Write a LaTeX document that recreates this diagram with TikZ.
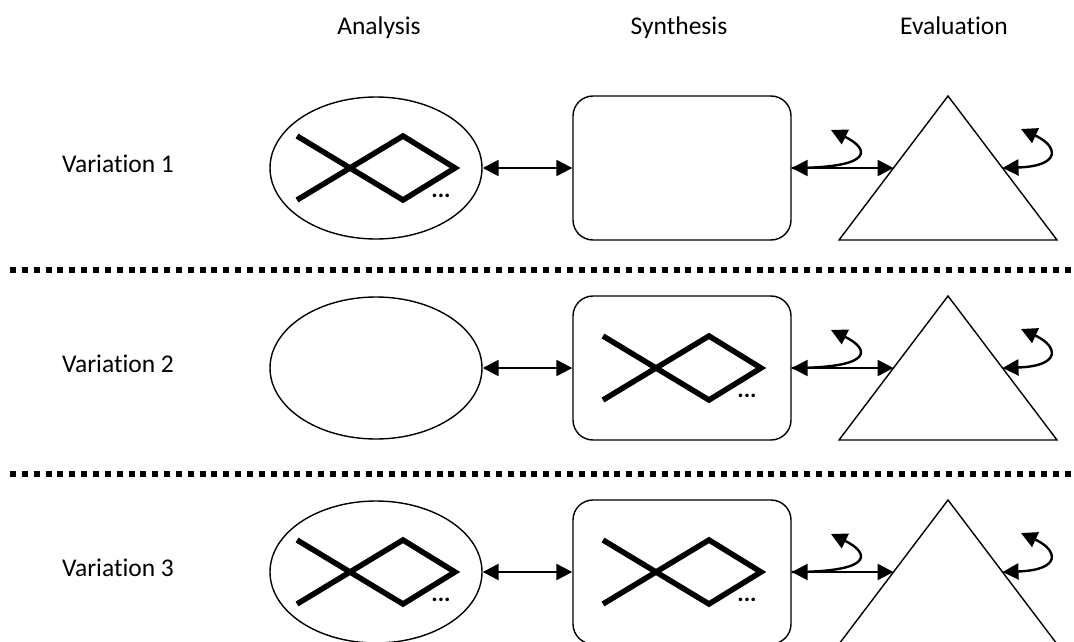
\documentclass[tikz,border=0pt]{standalone}
\usepackage{fontspec}
\setmainfont{Carlito}[Ligatures=NoCommon]
\usetikzlibrary{arrows.meta,shapes.geometric}
\begin{document}
\begin{tikzpicture}[x=1pt,y=-1pt,
  >={Triangle[length=16pt,width=16pt]},
  lbl/.style={font=\fontsize{25.5}{30}\selectfont, anchor=base, inner sep=0pt},
  anashape/.style={draw, line width=1.4pt, ellipse, minimum width=212pt, minimum height=142pt, inner sep=0pt},
  synshape/.style={draw, line width=1.4pt, rounded corners=20pt, minimum width=218pt, minimum height=144pt, inner sep=0pt},
  evalshape/.style={draw, line width=1.4pt, line join=miter},
  conn/.style={line width=2.4pt},
  sepline/.style={line width=6pt, dash pattern=on 6pt off 5.85pt},
  xglyph/.pic={
    \draw[line width=5.5pt, line join=miter] (-79,-32) -- (27,32) -- (79,0) -- (27,-32) -- (-79,32);
    \node[inner sep=0pt, font=\bfseries\fontsize{24}{26}\selectfont] (-dots) at (65,28) {...};
  }
]
\useasboundingbox (0,0) rectangle (1074,642);

% column headers
\node[lbl] (hana) at (379,35) {Analysis};
\node[lbl] (hsyn) at (679,35) {Synthesis};
\node[lbl] (heva) at (954,35) {Evaluation};

\foreach \i/\cy in {1/168,2/368,3/572} {
  \node[lbl] (var\i) at (118,\cy+4) {Variation \i};
  \node[anashape] (ana\i) at (376,\cy) {};
  \node[synshape] (syn\i) at (682,\cy) {};
  \coordinate (evtop\i) at (948,\cy-72);
  \coordinate (evbl\i) at (839,\cy+72);
  \coordinate (evbr\i) at (1057,\cy+72);
  \coordinate (evl\i) at (893.5,\cy);
  \coordinate (evr\i) at (1002.5,\cy);
  \coordinate (lcurve\i) at (831,\cy-38);
  \coordinate (rcurve\i) at (1021,\cy-39);
  \draw[evalshape] (evtop\i) -- (evbl\i) -- (evbr\i) -- cycle;
  \draw[conn,<->] (ana\i.east) -- (syn\i.west);
  \draw[conn,<->] (syn\i.east) -- (evl\i);
  \draw[conn,->] (syn\i.east) .. controls (878,\cy) and (868,\cy-20) .. (lcurve\i);
  \draw[conn,<->] (evr\i) .. controls (1062,\cy-2) and (1058,\cy-22) .. (rcurve\i);
}

% contents
\pic (xa1) at (ana1.center) {xglyph};
\pic (xs2) at (syn2.center) {xglyph};
\pic (xa3) at (ana3.center) {xglyph};
\pic (xs3) at (syn3.center) {xglyph};

% separators
\coordinate (s1a) at (10,270);
\coordinate (s1b) at (1074,270);
\coordinate (s2a) at (10,474);
\coordinate (s2b) at (1074,474);
\draw[sepline] (s1a) -- (s1b);
\draw[sepline] (s2a) -- (s2b);
\end{tikzpicture}
\end{document}
